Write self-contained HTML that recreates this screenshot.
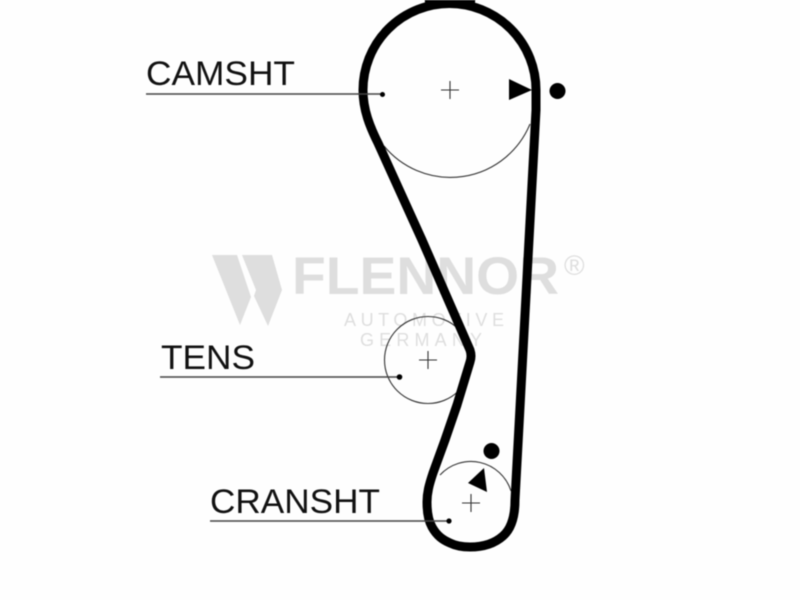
<!DOCTYPE html>
<html><head><meta charset="utf-8"><style>
html,body{margin:0;padding:0;background:#fff}
svg{display:block;filter:blur(.5px)}
text{font-family:"Liberation Sans",sans-serif}
</style></head><body>
<svg width="800" height="600" viewBox="0 0 800 600" xmlns="http://www.w3.org/2000/svg">
<rect width="800" height="600" fill="#fefefe"/>
<g fill="#dedede">
<path d="M212 255H237L251 297L240 325Z"/>
<path d="M242 255H272L282 290L268 326L254 296L256 290Z"/>
<text x="292" y="294" font-size="53" font-weight="bold" textLength="267" lengthAdjust="spacingAndGlyphs">FLENNOR</text>
<text x="344" y="326" font-size="18" textLength="160" lengthAdjust="spacing">AUTOMOTIVE</text>
<text x="360" y="346" font-size="18" textLength="122" lengthAdjust="spacing">GERMANY</text>
<text x="564" y="275" font-size="28">®</text>
</g>
<g fill="none" stroke="#333" stroke-width="1.1">
<path d="M384 146A86 86 0 0 0 530 124"/>
<circle cx="428" cy="360" r="43.5"/>
<path d="M440 475A42 42 0 0 1 511 491"/>
<path d="M441 90H459M450 81V99M419 360H437M428 351V369M462 503H480M471 494V512"/>
</g>
<path d="M536 90A86.5 86.5 0 0 0 363 90C363 110 370 127 378 143L422 240L470 350Q472 356 470 362L457 405L445 440L433 473C429 485 427 493 427 502C427 512 428 520 432 527C437 536 443 540 450 543C456 546 462 547 470 547C482 547 494 544 503 536C511 529 515 517 515 500L536 110Z" fill="none" stroke="#000" stroke-width="9" stroke-linejoin="round"/>
<path d="M425 3Q450 1 475 3" fill="none" stroke="#000" stroke-width="9"/>
<g stroke="#444" stroke-width="1.5" fill="none">
<path d="M146 94H382M160 377H399M210 521H449"/>
</g>
<g fill="#000">
<circle cx="382.500" cy="94.500" r="2.500"/>
<circle cx="399.500" cy="377" r="2.800"/>
<circle cx="449" cy="521" r="2.600"/>
<circle cx="557.500" cy="91" r="8"/>
<circle cx="491.500" cy="451" r="8"/>
<path d="M509 79L532 90L509 100Z"/>
<path d="M484 468L487 492L468 483Z"/>
</g>
<g fill="#111" font-size="34">
<text x="146" y="85" textLength="149" lengthAdjust="spacingAndGlyphs">CAMSHT</text>
<text x="161" y="369" textLength="94" lengthAdjust="spacingAndGlyphs">TENS</text>
<text x="210" y="513" textLength="170" lengthAdjust="spacingAndGlyphs">CRANSHT</text>
</g>
</svg>
</body></html>
